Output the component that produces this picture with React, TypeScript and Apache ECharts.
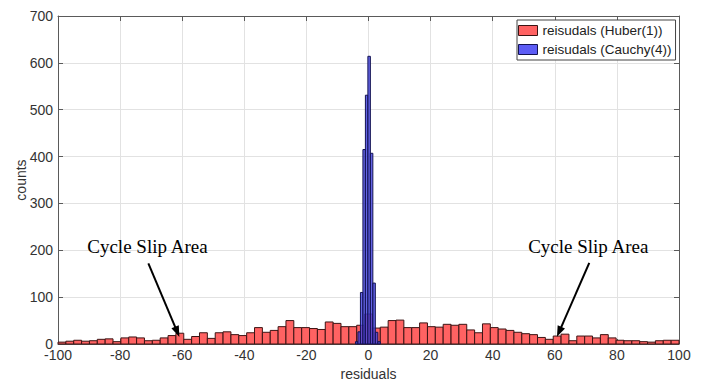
import React, { useEffect, useRef } from "react";
import * as echarts from "echarts";

// Histogram of residuals: 79 equal bins spanning [-100, 100] for the Huber fit.
const huberBinStart = -100;
const huberBinWidth = 200 / 79;
const huberCounts = [
  4, 6, 8, 6, 7, 10, 11, 5, 13, 15,
  13, 7, 8, 13, 18, 23, 10, 16, 24, 12,
  24, 26, 20, 18, 24, 35, 25, 29, 37, 50,
  35, 35, 33, 31, 47, 44, 37, 37, 40, 64,
  34, 36, 50, 51, 35, 35, 45, 37, 36, 42,
  40, 42, 30, 24, 43, 35, 32, 29, 25, 22,
  20, 14, 10, 17, 21, 7, 17, 17, 13, 20,
  13, 8, 7, 7, 5, 4, 7, 8, 8,
];

// Narrow bins for the Cauchy fit, concentrated around zero.
const cauchyBinStart = -4.2;
const cauchyBinWidth = 0.8;
const cauchyCounts = [5, 26, 110, 415, 531, 614, 407, 130, 25, 5];

const xTicks = { min: -100, max: 100, interval: 20 };
const yTicks = { min: 0, max: 700, interval: 100 };

const huberName = "reisudals (Huber(1))";
const cauchyName = "reisudals (Cauchy(4))";
const annotationText = "Cycle Slip Area";

// Arrow annotations in data units: [from, to].
const leftArrow = [[-70.9, 172], [-61.6, 26]];
const rightArrow = [[71.1, 173], [61.4, 26]];
const leftLabelAt = [-71.2, 209];
const rightLabelAt = [70.8, 209];

const toBins = (start: number, width: number, counts: number[]) =>
  counts.map((c, i) => [start + i * width, start + (i + 1) * width, c]);

const sansFont = "'Liberation Sans', Arial, Helvetica, sans-serif";
const serifFont = "'Liberation Serif', 'Times New Roman', serif";

const huberFill = "#ff6262";
const huberEdge = "#3c1414";
const cauchyFill = "rgba(66,66,225,0.82)";
const cauchyEdge = "#131352";

function histSeries(name: string, data: number[][], fill: string, edge: string, z: number) {
  return {
    type: "custom",
    name,
    z,
    data,
    encode: { x: [0, 1], y: 2 },
    itemStyle: { color: fill, borderColor: edge },
    renderItem: (params: any, api: any) => {
      const top = api.coord([api.value(0), api.value(2)]);
      const base = api.coord([api.value(1), 0]);
      return {
        type: "rect",
        shape: { x: top[0], y: top[1], width: base[0] - top[0], height: base[1] - top[1] },
        style: { fill, stroke: edge, lineWidth: 1 },
      };
    },
  };
}

export default function App() {
  const ref = useRef<HTMLDivElement>(null);

  useEffect(() => {
    if (!ref.current) return;
    const chart = echarts.init(ref.current, null, { renderer: "svg" });
    const axisColor = "#5a5a5a";
    const labelColor = "#333";
    const gridColor = "#e2e2e2";

    const baseX = {
      type: "value",
      min: xTicks.min,
      max: xTicks.max,
      interval: xTicks.interval,
      axisLine: { show: true, onZero: false, lineStyle: { color: axisColor, width: 1 } },
      axisTick: { show: true, inside: true, length: 5, lineStyle: { color: axisColor } },
    };
    const baseY = {
      type: "value",
      min: yTicks.min,
      max: yTicks.max,
      interval: yTicks.interval,
      axisLine: { show: true, onZero: false, lineStyle: { color: axisColor, width: 1 } },
      axisTick: { show: true, inside: true, length: 5, lineStyle: { color: axisColor } },
    };

    const annotationLabel = {
      show: true,
      formatter: annotationText,
      position: "inside",
      fontFamily: serifFont,
      fontSize: 19,
      color: "#000",
    };

    chart.setOption({
      animation: false,
      backgroundColor: "#fff",
      grid: { left: 58, right: 33, top: 16, bottom: 37, containLabel: false, outerBoundsMode: "none" },
      legend: {
        orient: "vertical",
        left: 517,
        top: 20,
        padding: [3, 4, 3, 1],
        itemGap: 4,
        itemWidth: 19,
        itemHeight: 10,
        backgroundColor: "#fff",
        borderColor: "#444",
        borderWidth: 1,
        borderRadius: 0,
        textStyle: { fontFamily: sansFont, fontSize: 13.5, color: "#222", lineHeight: 15 },
        data: [
          { name: huberName, icon: "rect", itemStyle: { color: huberFill, borderColor: huberEdge, borderWidth: 1 } },
          { name: cauchyName, icon: "rect", itemStyle: { color: "#5c5cf5", borderColor: cauchyEdge, borderWidth: 1 } },
        ],
      },
      xAxis: [
        {
          ...baseX,
          position: "bottom",
          name: "residuals",
          nameLocation: "middle",
          nameGap: 23,
          nameMoveOverlap: false,
          nameTextStyle: { fontFamily: sansFont, fontSize: 14, color: labelColor },
          axisLabel: { fontFamily: sansFont, fontSize: 14, color: labelColor, margin: 4 },
          splitLine: { show: true, lineStyle: { color: gridColor, width: 1 } },
        },
        {
          ...baseX,
          position: "top",
          axisLabel: { show: false },
          splitLine: { show: false },
        },
      ],
      yAxis: [
        {
          ...baseY,
          position: "left",
          name: "counts",
          nameLocation: "middle",
          nameGap: 30,
          nameMoveOverlap: false,
          nameTextStyle: { fontFamily: sansFont, fontSize: 14, color: labelColor },
          axisLabel: { fontFamily: sansFont, fontSize: 14, color: labelColor, margin: 5 },
          splitLine: { show: true, lineStyle: { color: gridColor, width: 1 } },
        },
        {
          ...baseY,
          position: "right",
          axisLabel: { show: false },
          splitLine: { show: false },
        },
      ],
      series: [
        histSeries(huberName, toBins(huberBinStart, huberBinWidth, huberCounts), huberFill, huberEdge, 2),
        {
          ...histSeries(cauchyName, toBins(cauchyBinStart, cauchyBinWidth, cauchyCounts), cauchyFill, cauchyEdge, 3),
          markLine: {
            silent: true,
            symbol: ["none", "triangle"],
            symbolSize: [8, 11],
            label: { show: false },
            lineStyle: { color: "#000", width: 2, type: "solid" },
            data: [
              [{ coord: leftArrow[0] }, { coord: leftArrow[1] }],
              [{ coord: rightArrow[0] }, { coord: rightArrow[1] }],
            ],
          },
          markPoint: {
            silent: true,
            symbol: "circle",
            symbolSize: 0,
            label: annotationLabel,
            data: [
              { coord: leftLabelAt, value: 0 },
              { coord: rightLabelAt, value: 0 },
            ],
          },
        },
      ],
    });

    return () => chart.dispose();
  }, []);

  return (
    <div
      ref={ref}
      style={{ position: "fixed", left: 0, top: 0, width: 712, height: 381, background: "#fff" }}
    />
  );
}
